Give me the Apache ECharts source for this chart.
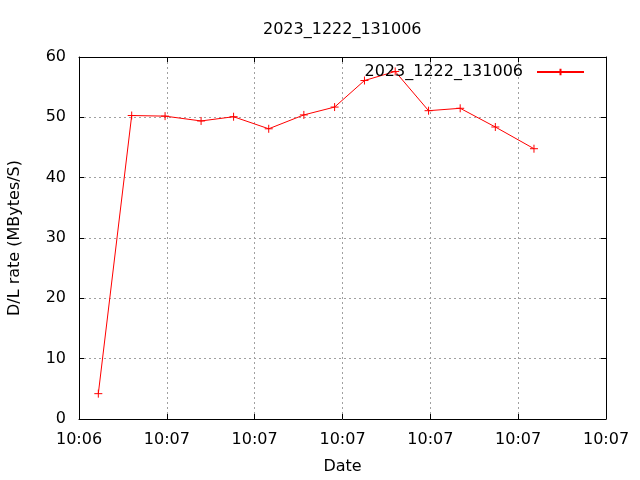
<!DOCTYPE html>
<html>
<head>
<meta charset="utf-8">
<script src="https://cdn.jsdelivr.net/npm/echarts@6/dist/echarts.min.js"></script>
<style>html,body{margin:0;padding:0;background:#fff}#c{width:640px;height:480px}</style>
</head>
<body>
<div id="c"></div>
<script>
// seconds offset from first x tick (ticks every 10 s)
var timeSec = [2.2, 6.0, 9.8, 13.9, 17.6, 21.6, 25.6, 29.1, 32.5, 36.0, 39.8, 43.4, 47.4, 51.8];
var rates = [4.2, 50.3, 50.2, 49.4, 50.1, 48.1, 50.4, 51.7, 56.1, 57.6, 51.1, 51.5, 48.4, 44.8];
var xTickLabels = ['10:06', '10:07', '10:07', '10:07', '10:07', '10:07', '10:07'];
var seriesName = '2023_1222_131006';
var titleText = '2023_1222_131006';

var FONT = 'DejaVu Sans';
var FS = 16;
var data = timeSec.map(function (t, i) { return [t, rates[i]]; });
var plus = 'path://M0,5L10,5M5,0L5,10';
var gridLine = { show: true, showMinLine: false, showMaxLine: false,
  lineStyle: { color: '#a0a0a0', type: [2, 3], width: 1 } };
var frameLine = { show: true, onZero: false, lineStyle: { color: '#000', width: 1 } };
var tick = { show: true, inside: true, length: 5, lineStyle: { color: '#000' } };

var chart = echarts.init(document.getElementById('c'), null, { renderer: 'canvas' });
chart.setOption({
  animation: false,
  backgroundColor: '#fff',
  title: {
    text: titleText, left: 258, top: 17,
    textStyle: { fontFamily: FONT, fontSize: FS, fontWeight: 'normal', color: '#000' }
  },
  legend: {
    right: 50, top: 59, align: 'right', itemWidth: 47, itemHeight: 8,
    data: [{ name: seriesName }],
    textStyle: { fontFamily: FONT, fontSize: FS, color: '#000', padding: [0, 9, 0, 0] }
  },
  grid: { left: 79, right: 34, top: 57, bottom: 61, outerBoundsMode: 'none', containLabel: false },
  xAxis: [{
    type: 'value', min: 0, max: 60, interval: 10,
    name: 'Date', nameLocation: 'middle', nameGap: 40,
    nameTextStyle: { fontFamily: FONT, fontSize: FS, color: '#000' },
    axisLine: frameLine, axisTick: tick,
    axisLabel: { fontFamily: FONT, fontSize: FS, color: '#000', margin: 13,
      formatter: function (v) { return xTickLabels[Math.round(v / 10)]; } },
    splitLine: gridLine
  }, {
    type: 'value', min: 0, max: 60, interval: 10, position: 'top',
    axisLine: frameLine, axisTick: tick,
    axisLabel: { show: false }, splitLine: { show: false }
  }],
  yAxis: [{
    type: 'value', min: 0, max: 60, interval: 10,
    name: 'D/L rate (MBytes/S)', nameLocation: 'middle', nameGap: 56,
    nameTextStyle: { fontFamily: FONT, fontSize: FS, color: '#000' },
    axisLine: frameLine, axisTick: tick,
    axisLabel: { fontFamily: FONT, fontSize: FS, color: '#000', margin: 13 },
    splitLine: gridLine
  }, {
    type: 'value', min: 0, max: 60, interval: 10, position: 'right',
    axisLine: frameLine, axisTick: tick,
    axisLabel: { show: false }, splitLine: { show: false }
  }],
  series: [{
    name: seriesName, type: 'line', data: data,
    xAxisIndex: 0, yAxisIndex: 0,
    symbol: plus, symbolSize: 8, showAllSymbol: true,
    lineStyle: { color: '#ff0000', width: 1 },
    itemStyle: { color: 'none', borderColor: '#ff0000', borderWidth: 1 },
    emphasis: { disabled: true }
  }]
});
</script>
</body>
</html>
